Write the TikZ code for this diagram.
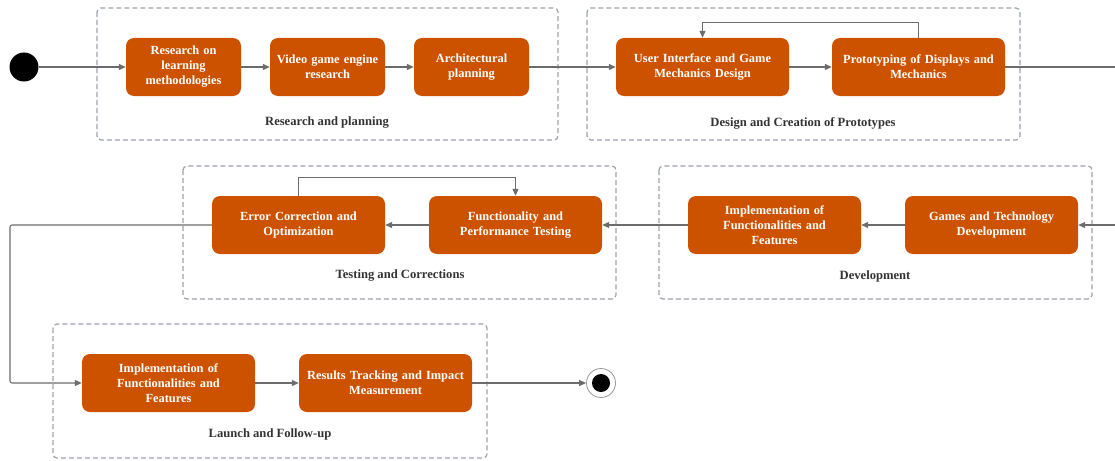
\documentclass[tikz,border=0pt]{standalone}
\usepackage{fontspec}
\setmainfont{Liberation Serif}
\usetikzlibrary{arrows.meta,positioning,calc}
\definecolor{taskorange}{RGB}{204,82,0}
\definecolor{groupgray}{RGB}{156,162,172}
\definecolor{linegray}{RGB}{108,108,108}
\definecolor{labelgray}{RGB}{51,51,51}

\begin{document}
\begin{tikzpicture}[x=1pt, y=-1pt,
    task/.style={fill=taskorange, rounded corners=8pt, minimum height=58pt, text=white, font=\bfseries\fontsize{12.4}{15}\selectfont, align=center, inner sep=2pt},
    narrow/.style={task, minimum width=115pt, text width=108pt},
    wide/.style={task, minimum width=173pt, text width=164pt},
    group/.style={draw=groupgray, dash pattern=on 5pt off 3pt, line width=1.2pt, rounded corners=4pt},
    grouplabel/.style={font=\bfseries\fontsize{12.6}{15}\selectfont, text=labelgray},
    flow/.style={draw=linegray, line width=1.1pt, -{Triangle[length=7pt,width=6pt]}},
    plainflow/.style={draw=linegray, line width=1.1pt},
    startdot/.style={circle, fill=black, minimum size=29pt, inner sep=0pt},
    endring/.style={circle, draw=linegray!70, fill=white, line width=0.8pt, minimum size=29pt, inner sep=0pt},
    enddot/.style={circle, fill=black, minimum size=18pt, inner sep=0pt},
]
\useasboundingbox (0,0) rectangle (1115,460);

% groups
\draw[group] (97,8) rectangle (558,140);
\node[grouplabel] (g1) at (327,123) {Research and planning};
\draw[group] (587,8) rectangle (1020,140);
\node[grouplabel] (g2) at (803,123) {Design and Creation of Prototypes};
\draw[group] (183,166) rectangle (616,299);
\node[grouplabel] (g3) at (400,276) {Testing and Corrections};
\draw[group] (659,166) rectangle (1092,299);
\node[grouplabel] (g4) at (875,276) {Development};
\draw[group] (53,324) rectangle (487,458);
\node[grouplabel] (g5) at (270,434) {Launch and Follow-up};

% row 1
\node[startdot] (start) at (24,67) {};
\node[narrow] (research) at (183.5,67) {Research on\\ learning\\ methodologies};
\node[narrow] (engine) at (327.5,67) {Video game engine\\ research};
\node[narrow] (arch) at (471.5,67) {Architectural\\ planning};
\node[wide] (uidesign) at (702.5,67) {User Interface and Game\\ Mechanics Design};
\node[wide] (proto) at (918.5,67) {Prototyping of Displays and\\ Mechanics};
\coordinate (exitR) at (1115,67);

% row 2
\coordinate (entryR) at (1115,225);
\node[wide] (gamedev) at (991.5,225) {Games and Technology\\ Development};
\node[wide] (devimpl) at (774.5,225) {Implementation of\\ Functionalities and\\ Features};
\node[wide] (functest) at (515.5,225) {Functionality and\\ Performance Testing};
\node[wide] (errfix) at (298.5,225) {Error Correction and\\ Optimization};
\coordinate (turn) at (10,225);

% row 3
\node[wide] (launchimpl) at (168.5,383) {Implementation of\\ Functionalities and\\ Features};
\node[wide] (results) at (385.5,383) {Results Tracking and Impact\\ Measurement};
\node[endring] (finish) at (601,383) {};
\node[enddot] (finishdot) at (finish) {};

% connectors
\draw[flow] (start) -- (research);
\draw[flow] (research) -- (engine);
\draw[flow] (engine) -- (arch);
\draw[flow] (arch) -- (uidesign);
\draw[flow] (uidesign) -- (proto);
\draw[flow] (proto.north) -- ++(0,-15) -| (uidesign.north);
\draw[plainflow] (proto) -- (exitR);
\draw[flow] (entryR) -- (gamedev);
\draw[flow] (gamedev) -- (devimpl);
\draw[flow] (devimpl) -- (functest);
\draw[flow] (functest) -- (errfix);
\draw[flow] (errfix.north) -- ++(0,-18) -| (functest.north);
\draw[flow, rounded corners=2pt] (errfix) -- (turn) |- (launchimpl);
\draw[flow] (launchimpl) -- (results);
\draw[flow] (results) -- (finish);
\end{tikzpicture}
\end{document}
